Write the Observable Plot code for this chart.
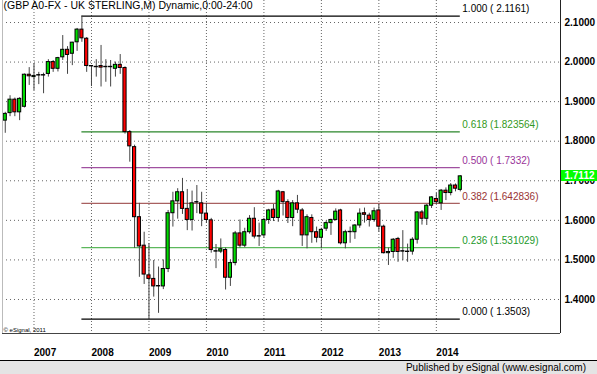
<!DOCTYPE html>
<html>
<head>
<meta charset="utf-8">
<script src="https://cdn.jsdelivr.net/npm/d3@7"></script>
<script src="https://cdn.jsdelivr.net/npm/@observablehq/plot@0.6"></script>
<style>
  html, body { margin: 0; padding: 0; background: #fff; }
  #wrap { position: relative; width: 597px; height: 374px; overflow: hidden; font-family: "Liberation Sans", Arial, sans-serif; }
  #footer { position: absolute; left: 0; top: 360px; width: 597px; height: 13px; border-top: 1px solid #000;
            background: #e4e4e4; font-size: 10px; line-height: 13px; text-align: right; box-sizing: content-box; }
  #footer span { padding-right: 11px; }
  #price { position: absolute; width: 37px; height: 11px; background: #00ff00; color: #fff; font-weight: bold;
           font-size: 10px; line-height: 11px; text-align: center; }
</style>
</head>
<body>
<div id="wrap"></div>
<script>
const chartTitle = "(GBP A0-FX - UK STERLING,M) Dynamic,0:00-24:00";
const copyrightText = "© eSignal, 2011";
const footerText = "Published by eSignal (www.esignal.com)";

const months = [
  "2006-07","2006-08","2006-09","2006-10","2006-11","2006-12",
  "2007-01","2007-02","2007-03","2007-04","2007-05","2007-06","2007-07","2007-08","2007-09","2007-10","2007-11","2007-12",
  "2008-01","2008-02","2008-03","2008-04","2008-05","2008-06","2008-07","2008-08","2008-09","2008-10","2008-11","2008-12",
  "2009-01","2009-02","2009-03","2009-04","2009-05","2009-06","2009-07","2009-08","2009-09","2009-10","2009-11","2009-12",
  "2010-01","2010-02","2010-03","2010-04","2010-05","2010-06","2010-07","2010-08","2010-09","2010-10","2010-11","2010-12",
  "2011-01","2011-02","2011-03","2011-04","2011-05","2011-06","2011-07","2011-08","2011-09","2011-10","2011-11","2011-12",
  "2012-01","2012-02","2012-03","2012-04","2012-05","2012-06","2012-07","2012-08","2012-09","2012-10","2012-11","2012-12",
  "2013-01","2013-02","2013-03","2013-04","2013-05","2013-06","2013-07","2013-08","2013-09","2013-10","2013-11","2013-12",
  "2014-01","2014-02","2014-03","2014-04","2014-05","2014-06"
];
const openV = [
  1.852,1.871,1.905,1.873,1.887,1.968,
  1.962,1.966,1.966,1.970,2.000,1.983,2.012,2.031,2.021,2.050,2.082,2.059,
  1.989,1.987,1.990,1.987,1.987,1.983,1.993,1.985,1.823,1.785,1.608,1.536,
  1.461,1.452,1.433,1.433,1.477,1.618,1.648,1.671,1.629,1.601,1.646,1.643,
  1.617,1.600,1.522,1.521,1.525,1.455,1.492,1.567,1.536,1.570,1.604,1.559,
  1.562,1.601,1.627,1.606,1.671,1.646,1.606,1.643,1.625,1.562,1.606,1.570,
  1.556,1.579,1.593,1.601,1.625,1.542,1.570,1.570,1.587,1.618,1.612,1.601,
  1.625,1.584,1.517,1.520,1.553,1.521,1.521,1.521,1.551,1.620,1.604,1.637,
  1.654,1.643,1.675,1.669,1.688,1.677
];
const highV = [
  1.873,1.915,1.909,1.910,1.970,1.986,
  1.996,1.974,1.972,2.006,2.004,2.012,2.067,2.039,2.050,2.085,2.1161,2.062,
  1.990,2.006,2.042,2.006,2.004,2.000,2.019,1.988,1.827,1.790,1.643,1.570,
  1.541,1.4985,1.482,1.500,1.625,1.671,1.680,1.706,1.678,1.674,1.688,1.671,
  1.643,1.605,1.539,1.553,1.530,1.500,1.572,1.601,1.580,1.612,1.632,1.593,
  1.605,1.628,1.640,1.676,1.673,1.652,1.650,1.663,1.630,1.614,1.614,1.583,
  1.580,1.598,1.603,1.629,1.628,1.575,1.583,1.589,1.629,1.631,1.618,1.631,
  1.640,1.588,1.530,1.554,1.557,1.574,1.540,1.556,1.622,1.625,1.640,1.660,
  1.668,1.678,1.682,1.693,1.692,1.713
];
const lowV = [
  1.820,1.862,1.862,1.852,1.884,1.941,
  1.928,1.943,1.920,1.962,1.974,1.975,2.004,1.969,1.991,2.027,2.050,1.974,
  1.938,1.962,1.937,1.949,1.937,1.962,1.969,1.818,1.747,1.529,1.456,1.438,
  1.3503,1.406,1.365,1.425,1.468,1.583,1.603,1.615,1.574,1.573,1.617,1.584,
  1.592,1.517,1.478,1.516,1.424,1.433,1.485,1.530,1.531,1.565,1.553,1.534,
  1.555,1.590,1.597,1.595,1.611,1.592,1.584,1.617,1.534,1.528,1.542,1.543,
  1.528,1.572,1.562,1.598,1.538,1.528,1.542,1.552,1.580,1.593,1.583,1.595,
  1.570,1.515,1.486,1.504,1.494,1.498,1.494,1.512,1.540,1.588,1.587,1.630,
  1.640,1.625,1.650,1.662,1.672,1.672
];
const closeV = [
  1.869,1.905,1.873,1.907,1.968,1.964,
  1.965,1.967,1.967,2.000,1.983,2.010,2.031,2.018,2.049,2.082,2.060,1.990,
  1.990,1.988,1.986,1.988,1.988,1.993,1.985,1.823,1.787,1.608,1.534,1.463,
  1.452,1.433,1.434,1.477,1.618,1.648,1.671,1.629,1.601,1.643,1.645,1.617,
  1.601,1.525,1.521,1.527,1.455,1.492,1.567,1.536,1.570,1.604,1.559,1.560,
  1.601,1.625,1.606,1.673,1.646,1.606,1.643,1.627,1.562,1.608,1.570,1.556,
  1.576,1.593,1.601,1.622,1.542,1.570,1.571,1.587,1.617,1.614,1.601,1.623,
  1.584,1.517,1.520,1.551,1.520,1.522,1.520,1.551,1.620,1.604,1.637,1.658,
  1.646,1.675,1.669,1.688,1.680,1.7112
];

const yTickValues = [1.4, 1.5, 1.6, 1.7, 1.8, 1.9, 2.0, 2.1];
const yearLabels = ["2007","2008","2009","2010","2011","2012","2013","2014"];
const yearMonths = ["2007-01","2008-01","2009-01","2010-01","2011-01","2012-01","2013-01","2014-01"];

const fibRatios = ["1.000","0.618","0.500","0.382","0.236","0.000"];
const fibLevels = [2.1161, 1.823564, 1.7332, 1.642836, 1.531029, 1.3503];
const fibLabels = ["1.000 ( 2.1161)","0.618 (1.823564)","0.500 ( 1.7332)","0.382 (1.642836)","0.236 (1.531029)","0.000 ( 1.3503)"];
const fibStartMonth = "2007-11";
const fibEndMonth = "2014-06";
const fibLineColors = ["#000000","#2a862a","#a050a0","#a86060","#5cb85c","#000000"];
const fibTextColors = ["#000000","#339922","#993399","#993333","#22992a","#000000"];

// month position: index of month counted from Jan 2007
const monthPos = m => (+m.slice(0, 4) - 2007) * 12 + (+m.slice(5, 7) - 1);

const candles = months.map((m, k) => ({
  pos: monthPos(m), o: openV[k], h: highV[k], l: lowV[k], c: closeV[k]
}));
const yearPos = yearMonths.map(monthPos);

const xDomain = [-6.576, 109.92];
const yDomain = [1.31404, 2.1556];
const green = "#00dd00", red = "#ff0000";

const chart = Plot.plot({
  width: 597,
  height: 360,
  marginTop: 0,
  marginBottom: 27,
  marginLeft: 2,
  marginRight: 37,
  x: {type: "linear", domain: xDomain},
  y: {type: "linear", domain: yDomain},
  style: {fontFamily: '"Liberation Sans", Arial, sans-serif', background: "#fff", color: "#000"},
  marks: [
    Plot.ruleY(yTickValues, {stroke: "#666", strokeDasharray: "1,3"}),
    Plot.ruleX(yearPos, {stroke: "#666", strokeDasharray: "1,2"}),
    Plot.ruleY(fibLevels, {
      y: d => d, x1: monthPos(fibStartMonth), x2: monthPos(fibEndMonth),
      stroke: (d, i) => fibLineColors[i], strokeWidth: 1.2
    }),
    Plot.text(fibLabels, {
      x: monthPos(fibEndMonth), y: (d, i) => fibLevels[i], text: d => d,
      dx: 2, dy: -7, textAnchor: "start", fill: (d, i) => fibTextColors[i], fontSize: 10
    }),
    Plot.ruleX(candles, {x: "pos", y1: "l", y2: "h", stroke: "#444"}),
    Plot.rect(candles, {
      x1: d => d.pos - 0.33, x2: d => d.pos + 0.33, y1: "o", y2: "c",
      fill: d => Math.abs(d.c - d.o) < 0.0015 ? "#000" : (d.c > d.o ? green : red),
      stroke: "#000", strokeWidth: 1
    }),
    Plot.ruleY([yDomain[0]], {stroke: "#444"}),
    Plot.ruleX([xDomain[1]], {stroke: "#222"}),
    Plot.ruleX([xDomain[0]], {stroke: "#bbb"}),
    Plot.axisY({
      anchor: "right", ticks: yTickValues, tickSize: 0, tickPadding: 4,
      tickFormat: d => d.toFixed(4), fontWeight: "bold", fontSize: 10, label: null
    }),
    Plot.axisX({
      anchor: "bottom", ticks: yearPos, tickSize: 0, tickPadding: 15,
      tickFormat: d => yearLabels[yearPos.indexOf(d)], textAnchor: "start",
      fontWeight: "bold", fontSize: 10, label: null
    }),
    Plot.text([chartTitle], {
      frameAnchor: "top-left", text: d => d, textAnchor: "start", lineAnchor: "top",
      dx: 1, dy: 1, fontSize: 10.5, fill: "#000"
    }),
    Plot.text([copyrightText], {
      frameAnchor: "bottom-left", text: d => d, textAnchor: "start", lineAnchor: "bottom",
      dx: 1, dy: -2, fontSize: 6, fill: "#000"
    })
  ]
});

const wrap = document.getElementById("wrap");
wrap.appendChild(chart);
chart.style.position = "absolute";
chart.style.left = "0px";
chart.style.top = "0px";

const lastClose = closeV[closeV.length - 1];
const price = document.createElement("div");
price.id = "price";
price.textContent = lastClose.toFixed(4);
price.style.left = (chart.scale("x").apply(xDomain[1]) + 1) + "px";
price.style.top = (chart.scale("y").apply(lastClose) - 5.5) + "px";
wrap.appendChild(price);

const footer = document.createElement("div");
footer.id = "footer";
footer.innerHTML = "<span></span>";
footer.firstChild.textContent = footerText;
wrap.appendChild(footer);
</script>
</body>
</html>
